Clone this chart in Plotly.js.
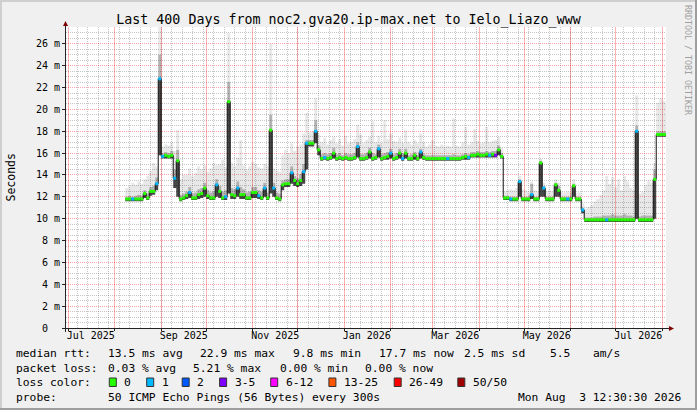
<!DOCTYPE html>
<html>
<head>
<meta charset="utf-8">
<script src="https://cdn.plot.ly/plotly-3.0.1.min.js"></script>
<style>
  html, body { margin: 0; padding: 0; background: #f0f0f0; }
  #chart { width: 697px; height: 410px; }
</style>
</head>
<body>
<div id="chart"></div>
<script>
const chart = document.getElementById('chart');

// one consolidated sample every 2 days, first one on 2025-08-08
const sampleStart = Date.UTC(2025, 7, 8);
const sampleStepDays = 2;

// median rtt, ms
const medianMs = [
    11.8, 11.8, 11.8, 11.8, 11.8, 11.8, 12.3, 11.9, 12.5, 12.5,
    13.2, 22.8, 15.7, 15.8, 15.7, 15.8, 13.7, 15.3, 11.8, 11.9,
    12.1, 12.4, 11.9, 11.9, 12.2, 12.3, 12.8, 12.1, 11.9, 11.9,
    13.1, 12.5, 11.9, 12.0, 20.7, 12.2, 12.1, 12.8, 12.2, 12.2,
    11.9, 11.9, 12.4, 12.4, 12.1, 11.9, 12.8, 11.9, 18.1, 12.8,
    11.9, 11.8, 13.1, 13.2, 13.2, 14.2, 13.5, 13.2, 13.5, 14.3,
    16.9, 16.9, 16.9, 18.0, 16.3, 15.5, 15.6, 15.5, 15.6, 16.0,
    15.5, 15.6, 15.5, 15.6, 15.5, 15.5, 15.6, 16.6, 15.5, 15.5,
    15.6, 16.1, 15.5, 15.6, 16.4, 15.5, 15.6, 15.7, 16.0, 15.5,
    15.6, 16.0, 15.5, 16.0, 15.5, 15.5, 15.8, 15.5, 16.1, 15.6,
    15.5, 15.5, 15.5, 15.5, 15.5, 15.5, 15.5, 15.5, 15.5, 15.5,
    15.5, 15.5, 15.6, 15.7, 15.6, 15.8, 15.8, 15.9, 15.8, 15.8,
    15.9, 15.8, 15.9, 15.8, 16.3, 15.7, 11.9, 11.9, 11.8, 11.8,
    11.8, 13.4, 11.8, 11.8, 11.8, 12.2, 11.8, 11.8, 15.1, 12.8,
    11.8, 11.8, 11.8, 13.1, 12.6, 11.8, 11.8, 11.8, 11.8, 13.0,
    11.8, 11.8, 10.8, 9.9, 9.9, 9.9, 9.9, 9.9, 9.9, 9.9,
    9.9, 9.9, 9.9, 9.9, 9.9, 9.9, 9.9, 9.9, 9.9, 9.9,
    18.0, 9.9, 9.9, 9.9, 9.9, 9.9, 13.6, 17.7, 17.7, 17.7,
    17.7
];

// smoke: lower edge, dense part and upper edge of the ping spread, ms
const smokeLowMs = [
    11.6, 11.6, 11.6, 11.6, 11.6, 11.6, 11.9, 11.7, 12.1, 12.2,
    12.6, 15.8, 15.5, 15.5, 15.5, 15.5, 12.8, 12.0, 11.6, 11.7,
    11.8, 11.9, 11.7, 11.7, 11.8, 11.9, 12.0, 11.8, 11.7, 11.7,
    12.0, 11.9, 11.7, 11.7, 12.3, 11.8, 11.8, 12.0, 11.8, 11.8,
    11.7, 11.7, 11.9, 11.9, 11.8, 11.7, 12.0, 11.7, 12.3, 12.0,
    11.7, 11.6, 12.6, 12.9, 12.9, 13.2, 13.0, 12.9, 13.0, 13.2,
    14.5, 16.6, 16.6, 16.9, 15.8, 15.3, 15.4, 15.3, 15.4, 15.5,
    15.3, 15.4, 15.3, 15.4, 15.3, 15.3, 15.4, 15.6, 15.3, 15.3,
    15.4, 15.5, 15.3, 15.4, 15.6, 15.3, 15.4, 15.4, 15.5, 15.3,
    15.4, 15.5, 15.3, 15.5, 15.3, 15.3, 15.4, 15.3, 15.5, 15.4,
    15.3, 15.3, 15.3, 15.3, 15.3, 15.3, 15.3, 15.3, 15.3, 15.3,
    15.3, 15.3, 15.4, 15.4, 15.4, 15.6, 15.6, 15.6, 15.6, 15.6,
    15.6, 15.6, 15.6, 15.6, 15.8, 15.5, 11.7, 11.7, 11.6, 11.6,
    11.6, 12.0, 11.6, 11.6, 11.6, 11.8, 11.6, 11.6, 12.0, 12.0,
    11.6, 11.6, 11.6, 12.0, 12.0, 11.6, 11.6, 11.6, 11.6, 12.0,
    11.6, 11.6, 10.5, 9.7, 9.7, 9.7, 9.7, 9.7, 9.7, 9.7,
    9.7, 9.7, 9.7, 9.7, 9.7, 9.7, 9.7, 9.7, 9.7, 9.7,
    10.0, 9.7, 9.7, 9.7, 9.7, 9.7, 10.0, 17.5, 17.5, 17.5,
    17.5
];
const smokeDenseMs = [
    12.0, 12.1, 12.0, 12.1, 12.2, 12.1, 12.6, 12.3, 12.9, 13.0,
    13.8, 25.0, 16.0, 16.1, 16.0, 16.2, 14.5, 16.3, 12.2, 12.3,
    12.5, 12.9, 12.3, 12.4, 12.7, 12.8, 13.3, 12.6, 12.4, 12.5,
    13.6, 13.0, 12.5, 12.6, 22.5, 12.8, 12.7, 13.4, 12.9, 12.7,
    12.4, 12.5, 12.9, 12.9, 12.6, 12.5, 13.3, 12.4, 19.5, 13.3,
    12.4, 12.3, 13.5, 13.6, 13.6, 14.8, 13.9, 13.7, 14.1, 15.0,
    17.2, 17.2, 17.2, 19.0, 16.7, 15.9, 16.0, 15.9, 16.0, 16.5,
    15.9, 16.0, 15.8, 16.0, 15.9, 15.9, 16.0, 17.0, 15.9, 15.9,
    16.0, 16.5, 16.0, 15.9, 16.8, 15.9, 16.0, 16.1, 16.4, 15.9,
    16.0, 16.4, 15.9, 16.4, 15.8, 15.9, 16.1, 15.8, 16.4, 15.9,
    15.8, 15.8, 15.8, 15.8, 15.8, 15.8, 15.8, 15.8, 15.8, 15.9,
    15.8, 15.8, 15.9, 16.0, 15.9, 16.1, 16.1, 16.2, 16.1, 16.1,
    16.2, 16.1, 16.2, 16.2, 16.7, 16.0, 12.1, 12.1, 12.0, 12.0,
    12.0, 13.6, 12.0, 12.0, 12.0, 13.2, 12.0, 12.0, 15.3, 13.0,
    12.0, 12.0, 12.0, 13.3, 13.0, 12.0, 12.0, 12.0, 12.0, 13.2,
    12.0, 12.0, 11.0, 10.1, 10.1, 10.1, 10.2, 10.2, 10.2, 10.3,
    10.3, 10.3, 10.4, 10.3, 10.3, 10.3, 10.4, 10.3, 10.3, 10.2,
    18.5, 10.2, 10.3, 10.3, 10.3, 10.3, 14.5, 18.0, 18.0, 18.0,
    18.0
];
const smokeTopMs = [
    12.8, 13.0, 13.3, 13.1, 13.4, 13.2, 13.6, 13.9, 14.4, 15.1,
    14.8, 28.0, 16.6, 16.8, 16.7, 17.0, 16.2, 18.1, 13.6, 14.0,
    14.0, 14.6, 13.9, 14.2, 14.8, 14.5, 14.9, 14.3, 14.6, 15.1,
    14.9, 15.0, 15.4, 14.7, 27.0, 15.1, 14.8, 15.6, 17.2, 14.9,
    14.5, 14.8, 15.2, 15.0, 14.7, 14.6, 15.0, 14.8, 26.0, 14.6,
    14.4, 14.3, 15.8, 16.3, 16.0, 16.9, 16.2, 16.6, 16.8, 17.8,
    19.7, 17.9, 18.0, 21.0, 17.8, 17.0, 17.4, 16.8, 17.2, 17.5,
    16.9, 17.3, 16.7, 17.6, 16.9, 17.0, 17.3, 18.6, 17.7, 16.9,
    17.2, 17.5, 18.9, 17.0, 17.6, 16.9, 19.0, 17.3, 17.8, 17.1,
    17.0, 17.4, 16.9, 18.1, 17.0, 16.8, 17.2, 16.9, 17.8, 17.0,
    16.6, 16.8, 17.2, 16.7, 16.6, 16.8, 16.6, 16.7, 16.6, 19.2,
    16.7, 16.6, 17.0, 18.4, 16.8, 17.0, 18.2, 17.1, 16.9, 17.0,
    18.4, 17.0, 17.1, 17.2, 17.5, 16.5, 12.5, 12.6, 12.7, 12.6,
    12.8, 13.9, 12.7, 12.6, 12.5, 13.4, 12.6, 12.5, 15.5, 13.3,
    12.5, 12.6, 12.5, 13.6, 13.3, 12.5, 12.4, 12.5, 12.4, 13.6,
    12.4, 12.4, 11.4, 10.9, 11.1, 11.3, 11.6, 11.8, 12.2, 12.6,
    13.9, 13.2, 13.8, 12.9, 13.6, 12.6, 13.9, 13.4, 12.8, 12.6,
    21.3, 12.3, 12.5, 13.1, 13.5, 13.3, 15.1, 20.6, 21.0, 20.8,
    20.6
];

// samples with lost pings, all the others lost none
const lossOneIdx = [2, 10, 11, 12, 16, 21, 30, 33, 37, 44, 46, 49, 55, 59, 60, 63, 66, 77,
    84, 88, 92, 98, 107, 114, 121, 128, 131, 135, 139, 147, 152, 160, 170];
const lossThreeIdx = [123];

const lossLabels = ['0', '1', '2', '3-5', '6-12', '13-25', '26-49', '50/50'];
const lossColors = ['#26ff00', '#00b8ff', '#0059ff', '#7e00ff', '#ff00ff', '#ff5500', '#ff0000', '#a10000'];

const yTickVals = [0, 2, 4, 6, 8, 10, 12, 14, 16, 18, 20, 22, 24, 26];
const monthLabelDates = ['2025-07-16', '2025-09-16', '2025-11-16', '2026-01-16', '2026-03-16', '2026-05-16', '2026-07-16'];
const monthLabels = ['Jul 2025', 'Sep 2025', 'Nov 2025', 'Jan 2026', 'Mar 2026', 'May 2026', 'Jul 2026'];

const rttStats = ['13.5 ms avg', '22.9 ms max', '9.8 ms min', '17.7 ms now', '2.5 ms sd', '5.5', 'am/s'];
const lossStats = ['0.03 % avg', '5.21 % max', '0.00 % min', '0.00 % now'];
const probeText = '50 ICMP Echo Pings (56 Bytes) every 300s';
const stampText = 'Mon Aug \u00a03 12:30:30 2026';

// ---- geometry (px of the 697x410 picture) ----
const W = 697, H = 410, ML = 66, MR = 31, MT = 27, MB = 82;
const PW = W - ML - MR, PH = H - MT - MB;
const fx = p => (p - ML) / PW;
const fy = p => (H - MB - p) / PH;
const mono = 'DejaVu Sans Mono, monospace';
const xRange = ['2025-06-29 12:30', '2026-08-03 12:30'];
const yRange = [0, PH / 10.93];

const DAY = 864e5;
const xs = medianMs.map((_, i) => sampleStart + i * sampleStepDays * DAY);
const xStep = xs.concat([sampleStart + medianMs.length * sampleStepDays * DAY]);
const ext = a => a.concat([a[a.length - 1]]);

function band(y, fill, color) {
    return {
        x: xStep, y: ext(y), type: 'scatter', mode: 'lines',
        line: {width: 0, shape: 'hv'}, fill: fill, fillcolor: color,
        hoverinfo: 'skip', showlegend: false
    };
}

function segments(idx, color) {
    const x = [], y = [];
    idx.forEach(i => {
        x.push(xs[i], xStep[i + 1], null);
        y.push(medianMs[i], medianMs[i], null);
    });
    return {
        x: x, y: y, type: 'scatter', mode: 'lines',
        line: {color: color, width: 3}, connectgaps: false,
        hoverinfo: 'skip', showlegend: false
    };
}

// empty trace that only carries an overlay axis
const axisCarrier = (xa, ya) => ({x: xRange, y: [null, null], xaxis: xa, yaxis: ya,
    mode: 'lines', hoverinfo: 'skip', showlegend: false});

const lossZeroIdx = medianMs.map((_, i) => i)
    .filter(i => !lossOneIdx.includes(i) && !lossThreeIdx.includes(i));

const data = [
    band(smokeLowMs, 'none', 'rgba(0,0,0,0)'),
    band(medianMs, 'tonexty', 'rgba(0,0,0,0.72)'),
    band(smokeDenseMs, 'tonexty', 'rgba(0,0,0,0.3)'),
    band(smokeTopMs, 'tonexty', 'rgba(0,0,0,0.09)'),
    {
        x: xStep, y: ext(medianMs), type: 'scatter', mode: 'lines',
        line: {color: '#111111', width: 1, shape: 'hv'},
        hoverinfo: 'skip', showlegend: false
    },
    segments(lossZeroIdx, lossColors[0]),
    segments(lossOneIdx, lossColors[1]),
    segments(lossThreeIdx, lossColors[3]),
    axisCarrier('x2', 'y'),
    axisCarrier('x3', 'y'),
    axisCarrier('x', 'y2')
];

function txt(text, x, y, extra) {
    return Object.assign({
        text: text, xref: 'paper', yref: 'paper', x: fx(x), y: fy(y),
        xanchor: 'left', yanchor: 'middle', showarrow: false,
        borderpad: 0, borderwidth: 0,
        font: {family: mono, size: 11.3, color: '#000'}
    }, extra || {});
}

const annotations = [
    txt('Seconds', 10, 177.5, {xanchor: 'center', textangle: -90, font: {family: mono, size: 11.5, color: '#000'}}),
    txt('RRDTOOL / TOBI OETIKER', 688, 60, {xanchor: 'center', textangle: 90, font: {family: mono, size: 8.3, color: '#a0a0a0'}}),
    txt('median rtt:', 16.4, 354),
    txt('packet loss:', 16.4, 368),
    txt('loss color:', 16.4, 382),
    txt('probe:', 16.4, 397),
    txt(probeText, 107.6, 397),
    txt(stampText, 681, 397, {xanchor: 'right'})
];
const rttX = [107.6, 200, 293.3, 379.1, 464.4, 549.8, 593.3];
rttStats.forEach((s, i) => annotations.push(txt(s, rttX[i], 354)));
const lossX = [107.6, 193.3, 280, 365.3];
lossStats.forEach((s, i) => annotations.push(txt(s, lossX[i], 368)));

const boxX = [109.3, 146.7, 182.2, 219.6, 270.7, 328.9, 394.2, 457.8];
const shapes = [];
lossLabels.forEach((s, i) => {
    annotations.push(txt(s, boxX[i] + 15, 382));
    shapes.push({
        type: 'rect', xref: 'paper', yref: 'paper',
        x0: fx(boxX[i]), x1: fx(boxX[i] + 7), y0: fy(386.5), y1: fy(378),
        fillcolor: lossColors[i], line: {color: '#333', width: 1}
    });
});

function pline(x0, y0, x1, y1, color, width) {
    return {type: 'line', xref: 'paper', yref: 'paper', x0: fx(x0), y0: fy(y0), x1: fx(x1), y1: fy(y1),
        line: {color: color, width: width}, layer: 'above'};
}
shapes.push(
    // 3d frame
    pline(0, 1, 697, 1, '#cfcfcf', 2),
    pline(1, 0, 1, 410, '#cfcfcf', 2),
    pline(0, 409, 697, 409, '#9e9e9e', 2),
    pline(696, 0, 696, 410, '#9e9e9e', 2),
    // axes
    pline(65.5, 332, 65.5, 26, '#222', 1),
    pline(62, 328.5, 669, 328.5, '#222', 1),
    {type: 'path', xref: 'paper', yref: 'paper', fillcolor: '#7f0000', line: {width: 0},
        path: `M ${fx(63)} ${fy(26)} L ${fx(65.5)} ${fy(21)} L ${fx(68)} ${fy(26)} Z`},
    {type: 'path', xref: 'paper', yref: 'paper', fillcolor: '#7f0000', line: {width: 0},
        path: `M ${fx(669)} ${fy(326)} L ${fx(674)} ${fy(328.5)} L ${fx(669)} ${fy(331)} Z`}
);

const majorGrid = 'rgba(255,0,0,0.35)';
const majorGridV = 'rgba(255,0,0,0.3)';
const minorGrid = 'rgba(120,120,120,0.42)';
const noLine = {showline: false, zeroline: false};

// grid positions: red on the first of every month, grey every half millisecond
const monthStarts = [];
for (let m = 0; m < 14; m++) monthStarts.push(Date.UTC(2025, 6 + m, 1));
const yFineVals = [];
for (let v = 0.5; v < yRange[1]; v += 0.5) if (v % 2 !== 0) yFineVals.push(v);

const layout = {
    width: W, height: H,
    margin: {l: ML, r: MR, t: MT, b: MB, pad: 0},
    paper_bgcolor: '#f0f0f0',
    plot_bgcolor: '#ffffff',
    showlegend: false,
    hovermode: false,
    title: {
        text: 'Last 400 Days from noc2.gva20.ip-max.net to Ielo_Liazo_www',
        font: {family: mono, size: 13.3, color: '#000'},
        x: 0.5, xref: 'container', xanchor: 'center',
        y: 1 - 19 / H, yref: 'container', yanchor: 'middle'
    },
    // weekly grey grid
    xaxis: Object.assign({
        type: 'date', range: xRange,
        tickmode: 'linear', tick0: '2025-06-30', dtick: 7 * DAY,
        showticklabels: false, ticks: '',
        showgrid: true, gridcolor: minorGrid, griddash: '1px,1px', gridwidth: 1
    }, noLine),
    // monthly red grid
    xaxis2: Object.assign({
        type: 'date', range: xRange, overlaying: 'x', anchor: 'y', side: 'bottom',
        tickmode: 'array', tickvals: monthStarts,
        showticklabels: false, ticks: 'outside', ticklen: 2, tickcolor: '#222',
        showgrid: true, gridcolor: majorGridV, griddash: 'solid', gridwidth: 1
    }, noLine),
    // month labels
    xaxis3: Object.assign({
        type: 'date', range: xRange, overlaying: 'x', anchor: 'y', side: 'bottom',
        tickmode: 'array', tickvals: monthLabelDates, ticktext: monthLabels,
        tickfont: {family: mono, size: 10, color: '#000'},
        ticks: '', showgrid: false
    }, noLine),
    yaxis: Object.assign({
        range: yRange, tickmode: 'array', tickvals: yFineVals,
        showticklabels: false, ticks: '',
        showgrid: true, gridcolor: minorGrid, griddash: '1px,1px', gridwidth: 1
    }, noLine),
    yaxis2: Object.assign({
        range: yRange, overlaying: 'y', anchor: 'x', side: 'left',
        tickmode: 'array', tickvals: yTickVals,
        ticktext: yTickVals.map(v => v === 0 ? '0\u00a0\u00a0' : v + ' m'),
        tickfont: {family: mono, size: 10, color: '#000'},
        ticks: 'outside', ticklen: 3, tickcolor: '#222',
        showgrid: true, gridcolor: majorGrid, griddash: '1px,1px', gridwidth: 1
    }, noLine),
    annotations: annotations,
    shapes: shapes
};

const config = {
    staticPlot: true,
    displayModeBar: false
};

Plotly.newPlot(chart, data, layout, config);
</script>
</body>
</html>
